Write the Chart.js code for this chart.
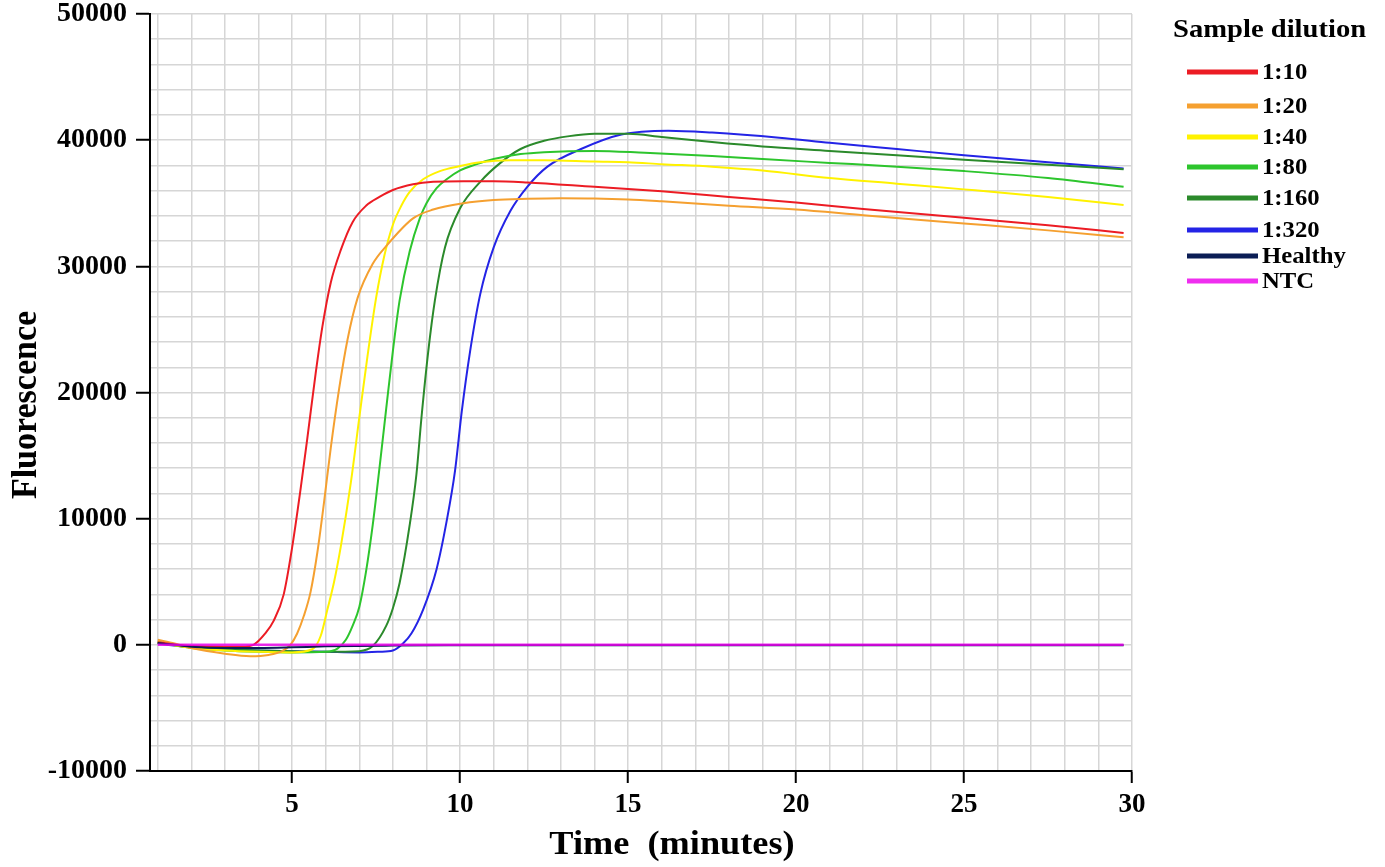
<!DOCTYPE html>
<html>
<head>
<meta charset="utf-8">
<script src="https://cdn.jsdelivr.net/npm/chart.js@4/dist/chart.umd.min.js"></script>
<style>
  html, body { margin: 0; padding: 0; background: #fff; }
  #wrap { width: 1385px; height: 867px; }
</style>
</head>
<body>
<div id="wrap"><canvas id="c" width="1385" height="867"></canvas></div>
<script>
// ---------- data ----------
const seriesLabels = ['1:10', '1:20', '1:40', '1:80', '1:160', '1:320', 'Healthy', 'NTC'];
const seriesColors = ['#ec1c24', '#f5a030', '#fff200', '#2dc52d', '#2b8a2b', '#2424e6', '#0b1d55', 'rgba(235,0,235,0.82)'];

const tRed = [1, 2, 3, 3.5, 3.85, 4.2, 4.45, 4.75, 5.0, 5.25, 5.45, 5.7, 5.9, 6.15, 6.45, 6.8, 7.2, 7.6, 8.0, 8.6, 9.2, 10.1, 11, 12, 14, 16, 18, 20, 22, 25, 27.5, 29.75];
const fRed = [200, -100, -150, -150, 0, 900, 1900, 4000, 7700, 12300, 16300, 21500, 25200, 28700, 31300, 33500, 34800, 35500, 36050, 36500, 36700, 36750, 36750, 36650, 36300, 35950, 35500, 35050, 34550, 33850, 33250, 32650];

const tOrange = [1, 1.5, 2, 3, 3.75, 4.3, 4.7, 4.95, 5.15, 5.35, 5.55, 5.75, 5.95, 6.15, 6.4, 6.65, 6.95, 7.4, 7.8, 8.6, 9.2, 10.1, 11, 12, 13, 14, 15, 16, 18, 20, 22, 25, 27.5, 29.75];
const fOrange = [400, 100, -250, -700, -900, -800, -500, 0, 900, 2300, 4200, 7300, 11300, 15600, 20300, 24200, 27500, 30200, 31600, 33800, 34500, 35000, 35250, 35350, 35400, 35380, 35300, 35150, 34800, 34500, 34050, 33400, 32850, 32300];

const tYellow = [1, 2, 3, 4, 5, 5.6, 5.85, 6.05, 6.25, 6.45, 6.75, 7.0, 7.25, 7.5, 7.75, 8.0, 8.25, 8.5, 8.9, 9.4, 10, 10.6, 11.5, 12.5, 14, 15, 16, 17.5, 19, 21, 23, 25, 27.5, 29.75];
const fYellow = [200, -250, -450, -550, -600, -350, 700, 2800, 5000, 7800, 12900, 18000, 23000, 27500, 30900, 33300, 34800, 35900, 36900, 37550, 37950, 38250, 38400, 38400, 38300, 38250, 38100, 37900, 37600, 37000, 36550, 36100, 35500, 34870];

const tGreen = [1, 2, 3, 4, 5, 6, 6.35, 6.6, 6.8, 7.0, 7.2, 7.4, 7.6, 7.8, 8.0, 8.2, 8.5, 8.8, 9.0, 9.3, 9.6, 10, 10.5, 11, 11.8, 12.5, 14, 15.5, 17.5, 19, 21, 23, 25, 27.5, 29.75];
const fGreen = [200, -250, -450, -550, -600, -550, -300, 400, 1500, 3000, 5800, 9500, 14000, 18700, 23300, 27300, 31200, 33800, 35000, 36200, 36900, 37600, 38100, 38500, 38900, 39050, 39150, 39000, 38750, 38500, 38200, 37900, 37550, 37000, 36300];

const tDkGreen = [1, 2, 3, 4, 5, 6, 7, 7.4, 7.8, 8.0, 8.2, 8.5, 8.7, 8.85, 9.05, 9.25, 9.55, 10.0, 10.6, 11.2, 11.8, 12.5, 13.2, 14, 15, 16, 17.5, 19, 21, 23, 25, 27.5, 29.75];
const fDkGreen = [200, -200, -350, -450, -500, -550, -500, -100, 1500, 2900, 4900, 9500, 13500, 18000, 23200, 27300, 31500, 34600, 36700, 38200, 39300, 39950, 40300, 40500, 40500, 40250, 39850, 39500, 39150, 38800, 38450, 38050, 37700];

const tBlue = [1, 2, 3, 4, 5, 6, 7, 7.6, 8.0, 8.3, 8.55, 8.9, 9.3, 9.6, 9.85, 10.05, 10.3, 10.6, 11.0, 11.5, 12.0, 12.6, 13.6, 14.8, 16.2, 17.5, 19.5, 21, 23, 25, 27.5, 29.75];
const fBlue = [100, -200, -350, -450, -500, -550, -600, -550, -450, 100, 900, 2800, 6000, 9800, 13800, 18500, 23300, 27800, 31500, 34400, 36300, 37900, 39300, 40450, 40750, 40600, 40200, 39800, 39300, 38800, 38250, 37750];

const tHealthy = [1, 2, 3, 4, 5, 6, 8, 10, 15, 20, 25, 29.75];
const fHealthy = [150, -150, -250, -250, -200, -120, -60, -40, -30, -30, -30, -30];

const tNTC = [1, 5, 10, 15, 20, 25, 29.75];
const fNTC = [0, 0, 0, 0, 0, 0, 0];

const xTickLabels = [5, 10, 15, 20, 25, 30];
const yTickLabels = [-10000, 0, 10000, 20000, 30000, 40000, 50000];
const xMin = 0.77, xMax = 30, xGridStep = 1;
const yMin = -10000, yMax = 50000, yGridStep = 2000;

// ---------- build ----------
const seriesT = [tRed, tOrange, tYellow, tGreen, tDkGreen, tBlue, tHealthy, tNTC];
const seriesF = [fRed, fOrange, fYellow, fGreen, fDkGreen, fBlue, fHealthy, fNTC];
const orders = [0, 0, 0, 0, 0, 0, -1, -2];

const datasets = seriesLabels.map((lab, i) => ({
  label: lab,
  data: seriesT[i].map((t, k) => ({ x: t, y: seriesF[i][k] })),
  borderColor: seriesColors[i],
  backgroundColor: seriesColors[i],
  borderWidth: i === 7 ? 2.5 : 2,
  pointRadius: 0,
  cubicInterpolationMode: 'monotone',
  fill: false,
  order: orders[i]
}));

function gridValues(min, max, step) {
  const out = [];
  const start = Math.ceil(min / step) * step;
  for (let v = start; v <= max + 1e-9; v += step) out.push(Math.round(v * 1000) / 1000);
  return out;
}

const FONT = '"Liberation Serif", "Times New Roman", serif';

function drawStretched(ctx, text, x, y, font, sx, align) {
  ctx.save();
  ctx.font = font;
  ctx.textAlign = align;
  ctx.textBaseline = 'middle';
  ctx.translate(x, y);
  ctx.scale(sx, 1);
  ctx.fillText(text, 0, 0);
  ctx.restore();
}

const overlay = {
  id: 'overlay',
  afterDraw(chart) {
    const ctx = chart.ctx;
    ctx.save();
    ctx.fillStyle = '#000';
    // axis titles
    drawStretched(ctx, 'Time  (minutes)', 672, 845, 'bold 33px ' + FONT, 1.1, 'center');
    ctx.save();
    ctx.translate(27, 405);
    ctx.rotate(-Math.PI / 2);
    ctx.scale(1, 1.05);
    ctx.font = 'bold 34px ' + FONT;
    ctx.textAlign = 'center';
    ctx.textBaseline = 'middle';
    ctx.fillText('Fluorescence', 0, 0);
    ctx.restore();
    // legend
    drawStretched(ctx, 'Sample dilution', 1173, 30, 'bold 26px ' + FONT, 1.1, 'left');
    const rowY = [72, 106, 137, 167, 198, 230, 256, 281];
    chart.data.datasets.forEach((ds, i) => {
      const y = rowY[i];
      ctx.beginPath();
      ctx.strokeStyle = ds.borderColor;
      ctx.lineWidth = 5;
      ctx.lineCap = 'butt';
      ctx.moveTo(1187, y);
      ctx.lineTo(1258, y);
      ctx.stroke();
      ctx.fillStyle = '#000';
      drawStretched(ctx, ds.label, 1262, y + 1, 'bold 24px ' + FONT, 1.03, 'left');
    });
    ctx.restore();
  }
};

new Chart(document.getElementById('c'), {
  type: 'line',
  data: { datasets },
  plugins: [overlay],
  options: {
    responsive: false,
    animation: false,
    devicePixelRatio: 1,
    layout: { padding: { left: 0, top: 14, right: 253, bottom: 0 } },
    plugins: { legend: { display: false }, tooltip: { enabled: false }, title: { display: false } },
    scales: {
      x: {
        type: 'linear',
        min: xMin,
        max: xMax,
        afterBuildTicks: (s) => { s.ticks = gridValues(xMin, xMax, xGridStep).map(v => ({ value: v })); },
        afterFit: (s) => { s.height = 96; },
        ticks: {
          autoSkip: false,
          maxRotation: 0,
          padding: 6,
          color: '#000',
          font: { family: FONT, size: 27, weight: 'bold' },
          callback: (v) => xTickLabels.includes(v) ? String(v) : ''
        },
        grid: {
          color: '#d6d6d6',
          lineWidth: 1.5,
          drawTicks: true,
          tickLength: 12,
          tickWidth: 2,
          tickColor: (c) => (c.tick && xTickLabels.includes(c.tick.value)) ? '#000' : 'rgba(0,0,0,0)'
        },
        border: { color: '#000', width: 2 }
      },
      y: {
        type: 'linear',
        min: yMin,
        max: yMax,
        afterBuildTicks: (s) => { s.ticks = gridValues(yMin, yMax, yGridStep).map(v => ({ value: v })); },
        afterFit: (s) => { s.width = 150; },
        ticks: {
          autoSkip: false,
          padding: 9,
          color: '#000',
          font: { family: FONT, size: 28, weight: 'bold', lineHeight: 0.3 },
          callback: (v) => yTickLabels.includes(v) ? String(v) : ''
        },
        grid: {
          color: '#d6d6d6',
          lineWidth: 1.5,
          drawTicks: true,
          tickLength: 14,
          tickWidth: 2,
          tickColor: (c) => (c.tick && yTickLabels.includes(c.tick.value)) ? '#000' : 'rgba(0,0,0,0)'
        },
        border: { color: '#000', width: 2 }
      }
    }
  }
});
</script>
</body>
</html>
